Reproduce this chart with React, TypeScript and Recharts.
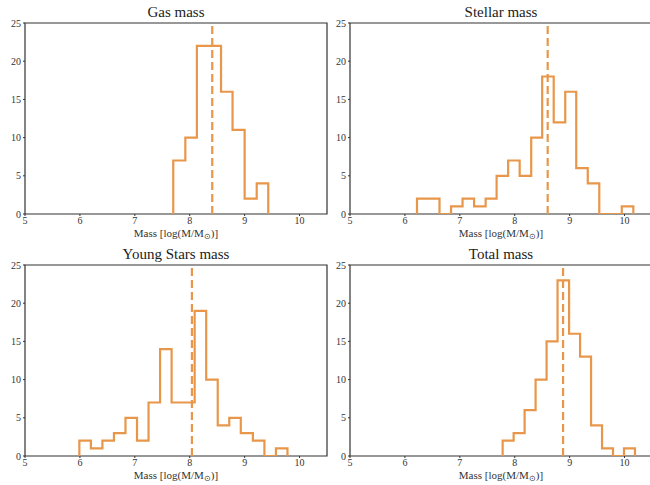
import React from "react";
import { ComposedChart, Line, XAxis, YAxis, ReferenceLine, ReferenceArea } from "recharts";

// bin edges and counts
const gasEdges = [7.70, 7.92, 8.13, 8.35, 8.57, 8.78, 9.00, 9.22, 9.43];
const gasCounts = [7, 10, 22, 22, 16, 11, 2, 4];
const gasMedian = 8.41;

const stellarEdges = [6.22, 6.42, 6.63, 6.84, 7.05, 7.26, 7.47, 7.67, 7.88, 8.09, 8.30, 8.50, 8.71, 8.92, 9.12, 9.33, 9.54, 9.75, 9.95, 10.16];
const stellarCounts = [2, 2, 0, 1, 2, 1, 2, 5, 7, 5, 10, 18, 12, 16, 6, 4, 0, 0, 1];
const stellarMedian = 8.60;

const youngEdges = [5.99, 6.20, 6.41, 6.62, 6.83, 7.04, 7.25, 7.46, 7.67, 7.88, 8.09, 8.30, 8.51, 8.72, 8.93, 9.15, 9.36, 9.57, 9.78];
const youngCounts = [2, 1, 2, 3, 5, 2, 7, 14, 7, 7, 19, 10, 4, 5, 3, 2, 0, 1];
const youngMedian = 8.04;

const totalEdges = [7.78, 7.98, 8.18, 8.38, 8.58, 8.78, 8.99, 9.19, 9.39, 9.59, 9.79, 9.99, 10.19];
const totalCounts = [2, 3, 6, 10, 15, 23, 16, 13, 4, 1, 0, 1];
const totalMedian = 8.88;

const xTicks = [5, 6, 7, 8, 9, 10];
const yTicks = [0, 5, 10, 15, 20, 25];

const ORANGE = "#E8974A";
const AXIS = "#333333";
const FONT = "Liberation Serif";

// outline of a matplotlib "step" histogram
function buildSteps(edges: number[], counts: number[]) {
    const pts: { x: number; y: number }[] = [{ x: edges[0], y: 0 }];
    counts.forEach((c, i) => pts.push({ x: edges[i], y: c }));
    const last = counts[counts.length - 1];
    pts.push({ x: edges[edges.length - 1], y: last });
    pts.push({ x: edges[edges.length - 1], y: 0 });
    return pts;
}

const MassLabel = (props: any) => {
    const vb = props.viewBox || {};
    const cx = vb.x + vb.width / 2;
    const y = vb.y + 23;
    return (
        <text x={cx} y={y} textAnchor="middle" fill={AXIS} fontSize={11} style={{ fontFamily: FONT }}>
            Mass [log(M/M
            <tspan fontSize={8} dy={2}>⊙</tspan>
            <tspan dy={-2}>)]</tspan>
        </text>
    );
};

function Panel({ left, top, title, edges, counts, median }: any) {
    const data = buildSteps(edges, counts);
    return (
        <div style={{ position: "absolute", left: left - 25, top: top - 23 }}>
            <div style={{
                position: "absolute", left: 25, top: 5, width: 302, textAlign: "center",
                fontFamily: FONT, fontSize: 15, lineHeight: "15px", color: "#222"
            }}>
                {title}
            </div>
            <ComposedChart width={337} height={244} data={data} margin={{ top: 23, right: 10, bottom: 0, left: 0 }}
                style={{ fontFamily: FONT }}>
                <XAxis
                    type="number"
                    dataKey="x"
                    domain={[5, 10.5]}
                    ticks={xTicks}
                    allowDataOverflow
                    height={30}
                    axisLine={false}
                    tickSize={2}
                    tickMargin={1}
                    tickLine={{ stroke: AXIS }}
                    tick={{ fill: AXIS, fontSize: 10, style: { fontFamily: FONT } }}
                    label={<MassLabel />}
                />
                <YAxis
                    type="number"
                    domain={[0, 25]}
                    ticks={yTicks}
                    allowDataOverflow
                    width={25}
                    axisLine={false}
                    tickSize={2}
                    tickMargin={2}
                    tickLine={{ stroke: AXIS }}
                    tick={{ fill: AXIS, fontSize: 10, style: { fontFamily: FONT } }}
                />
                <Line
                    type="stepAfter"
                    dataKey="y"
                    stroke={ORANGE}
                    strokeWidth={2.2}
                    dot={false}
                    activeDot={false}
                    isAnimationActive={false}
                />
                <ReferenceLine x={median} stroke={ORANGE} strokeWidth={2.2} strokeDasharray="8 4" />
                <ReferenceArea x1={5} x2={10.5} y1={0} y2={25} fill="none" stroke={AXIS} strokeWidth={1.2} />
            </ComposedChart>
        </div>
    );
}

export default function App() {
    return (
        <div style={{
            position: "absolute", left: 0, top: 0, width: 650, height: 485,
            overflow: "hidden", background: "#fff"
        }}>
            <Panel left={25} top={23} title="Gas mass" edges={gasEdges} counts={gasCounts} median={gasMedian} />
            <Panel left={350} top={23} title="Stellar mass" edges={stellarEdges} counts={stellarCounts} median={stellarMedian} />
            <Panel left={25} top={265} title="Young Stars mass" edges={youngEdges} counts={youngCounts} median={youngMedian} />
            <Panel left={350} top={265} title="Total mass" edges={totalEdges} counts={totalCounts} median={totalMedian} />
        </div>
    );
}
